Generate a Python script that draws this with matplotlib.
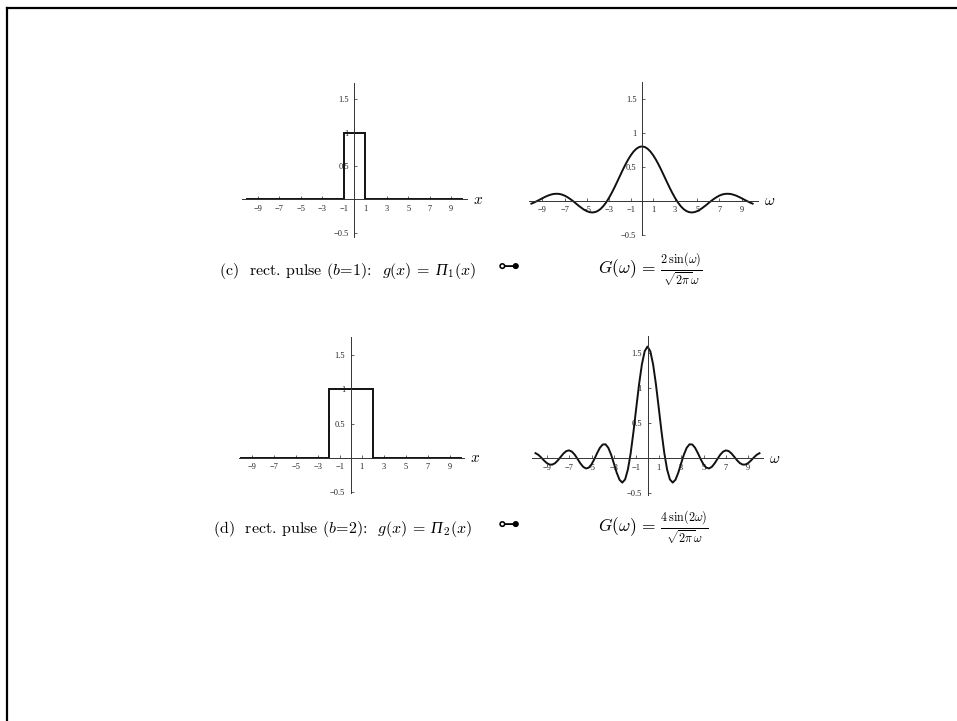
import matplotlib
matplotlib.use("Agg")
import matplotlib.pyplot as plt
from matplotlib.lines import Line2D

plt.rcParams['mathtext.fontset'] = 'cm'
plt.rcParams['axes.unicode_minus'] = True

W, H = 957, 721

# ---------------- data ----------------
pulse1_x = [-10, -1, -1, 1, 1, 10]
pulse1_y = [0, 0, 1, 1, 0, 0]
pulse2_x = [-10, -2, -2, 2, 2, 10]
pulse2_y = [0, 0, 1, 1, 0, 0]

omega_pos = [0, 0.25, 0.5, 0.75, 1.0, 1.25, 1.5, 1.75, 2.0, 2.25, 2.5, 2.75, 3.0,
             3.25, 3.5, 3.75, 4.0, 4.25, 4.5, 4.75, 5.0, 5.25, 5.5, 5.75, 6.0,
             6.25, 6.5, 6.75, 7.0, 7.25, 7.5, 7.75, 8.0, 8.25, 8.5, 8.75, 9.0,
             9.25, 9.5, 9.75, 10.0]
omega = [-w for w in omega_pos[:0:-1]] + omega_pos

G1_pos = [0.798, 0.790, 0.765, 0.725, 0.671, 0.606, 0.531, 0.449, 0.363, 0.276,
          0.191, 0.111, 0.038, -0.027, -0.080, -0.122, -0.151, -0.168, -0.173,
          -0.168, -0.153, -0.131, -0.102, -0.071, -0.037, -0.004, 0.026, 0.053,
          0.075, 0.091, 0.100, 0.102, 0.099, 0.089, 0.075, 0.057, 0.037, 0.015,
          -0.006, -0.026, -0.043]
G2_pos = [1.596, 1.530, 1.343, 1.061, 0.726, 0.382, 0.075, -0.160, -0.302, -0.347,
          -0.306, -0.205, -0.074, 0.053, 0.150, 0.200, 0.197, 0.150, 0.073,
          -0.013, -0.087, -0.134, -0.145, -0.121, -0.071, -0.008, 0.052, 0.095,
          0.113, 0.103, 0.069, 0.021, -0.029, -0.069, -0.090, -0.089, -0.067,
          -0.030, 0.013, 0.050, 0.073]
G1 = G1_pos[:0:-1] + G1_pos
G2 = G2_pos[:0:-1] + G2_pos

x_ticks = [-9, -7, -5, -3, -1, 1, 3, 5, 7, 9]
x_ticklabels = ['\u22129', '\u22127', '\u22125', '\u22123', '\u22121', '1', '3', '5', '7', '9']
y_ticks = [-0.5, 0.5, 1, 1.5]
y_ticklabels = ['\u22120.5', '0.5', '1', '1.5']

caption_parts = [
    [r"(c)  rect. pulse $(b\!=\!1)$:  $g(x)\,=$", "\u03a0", r"$_{1}(x)$"],
    [r"(d)  rect. pulse $(b\!=\!2)$:  $g(x)\,=$", "\u03a0", r"$_{2}(x)$"],
]
captions_right = [r"$G(\omega)\,=\,\frac{2\,\sin(\omega)}{\sqrt{2\pi}\omega}$",
                  r"$G(\omega)\,=\,\frac{4\,\sin(2\omega)}{\sqrt{2\pi}\omega}$"]

# ---------------- layout ----------------
fig = plt.figure(figsize=(W / 100, H / 100), dpi=100)


def make_axes(x0, scale_x, y0, scale_y, xlim, ylim):
    left = x0 + xlim[0] * scale_x
    right = x0 + xlim[1] * scale_x
    top = y0 - ylim[1] * scale_y
    bottom = y0 - ylim[0] * scale_y
    ax = fig.add_axes([left / W, 1 - bottom / H, (right - left) / W, (bottom - top) / H])
    ax.set_xlim(*xlim)
    ax.set_ylim(*ylim)
    ax.patch.set_alpha(0)
    for s in ['top', 'right']:
        ax.spines[s].set_visible(False)
    ax.spines['left'].set_position(('data', 0))
    ax.spines['bottom'].set_position(('data', 0))
    for s in ['left', 'bottom']:
        ax.spines[s].set_linewidth(0.7)
        ax.spines[s].set_color('#333333')
    ax.set_xticks(x_ticks)
    ax.set_xticklabels(x_ticklabels, fontfamily='Liberation Serif')
    ax.set_yticks(y_ticks)
    ax.set_yticklabels(y_ticklabels, fontfamily='Liberation Serif')
    ax.tick_params(direction='in', length=2.0, width=0.5, labelsize=6, colors='#222222')
    ax.tick_params(axis='x', pad=4)
    ax.tick_params(axis='y', pad=4)
    return ax


axes_specs = [
    (354.5, 10.74, 199.3, 66.7, (-10.5, 10.45), (-0.56, 1.74)),
    (642.0, 11.06, 200.7, 68.0, (-10.2, 10.5), (-0.51, 1.75)),
    (350.8, 11.02, 457.7, 68.3, (-10.1, 10.3), (-0.52, 1.77)),
    (647.5, 11.20, 458.3, 70.0, (-10.3, 10.35), (-0.53, 1.75)),
]
axs = [make_axes(*spec) for spec in axes_specs]

axs[0].plot(pulse1_x, pulse1_y, color='#111111', lw=1.4, solid_joinstyle='miter')
axs[1].plot(omega, G1, color='#111111', lw=1.4)
axs[2].plot(pulse2_x, pulse2_y, color='#111111', lw=1.4, solid_joinstyle='miter')
axs[3].plot(omega, G2, color='#111111', lw=1.4)

axis_labels = [r"$x$", r"$\omega$", r"$x$", r"$\omega$"]
for ax, lab in zip(axs, axis_labels):
    ax.annotate(lab, xy=(1, 0), xycoords=('axes fraction', 'data'),
                xytext=(6, 0), textcoords='offset pixels',
                ha='left', va='center', fontsize=11)

# captions
renderer = fig.canvas.get_renderer()
cap_base = [275, 533]
cap_x0 = [219, 213]
fs = 11.5
for i in range(2):
    yb = 1 - cap_base[i] / H
    p1, p2, p3 = caption_parts[i]
    t1 = fig.text(cap_x0[i] / W, yb, p1, fontfamily='cmr10', fontsize=fs,
                  ha='left', va='baseline')
    bb1 = t1.get_window_extent(renderer)
    t2 = fig.text((bb1.x1 + 5) / W, yb, p2, fontfamily='Liberation Serif', fontstyle='italic',
                  fontsize=fs, ha='left', va='baseline')
    bb2 = t2.get_window_extent(renderer)
    fig.text((bb2.x1 + 1) / W, yb, p3, fontfamily='cmr10', fontsize=fs,
             ha='left', va='baseline')
    fig.text(509 / W, 1 - (cap_base[i] - 8) / H, '\u22b6', fontfamily='DejaVu Sans',
             fontsize=16, ha='center', va='center')
    fig.text(598 / W, 1 - (cap_base[i] - 5) / H, captions_right[i], fontfamily='cmr10',
             fontsize=12.5, ha='left', va='center')

# frame lines (top and left)
fig.add_artist(Line2D([7.5 / W, 1], [1 - 7.5 / H, 1 - 7.5 / H], transform=fig.transFigure,
                      color='black', lw=1.6))
fig.add_artist(Line2D([7.5 / W, 7.5 / W], [0, 1 - 7.5 / H], transform=fig.transFigure,
                      color='black', lw=1.6))

fig.savefig('out.png', dpi=100)
